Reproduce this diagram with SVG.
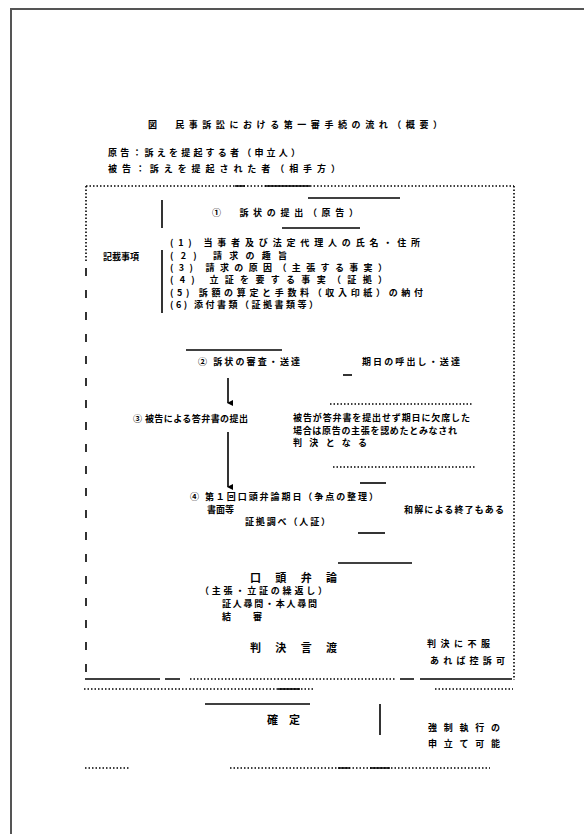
<svg xmlns="http://www.w3.org/2000/svg" width="584" height="834" viewBox="0 0 584 834">
<style>
text{font-family:"Noto Sans CJK JP","Noto Sans",sans-serif;fill:#000;font-size:9px;font-weight:bold}
.big{font-size:11px}
.dot{stroke:#000;stroke-width:1.6;stroke-dasharray:1.5 2;fill:none}
.dash{stroke:#000;stroke-width:1.6;stroke-dasharray:8 14;fill:none}
.sol{stroke:#000;stroke-width:1.6;fill:none}
</style>
<defs>
<marker id="ah" markerWidth="6" markerHeight="6" refX="3" refY="5" orient="auto" markerUnits="userSpaceOnUse"><path d="M0,0 L6,0 L3,6 z" fill="#000"/></marker>
</defs>
<rect x="0" y="0" width="584" height="834" fill="#fff"/>
<path d="M11,840 L11,9 L590,9" fill="none" stroke="#555" stroke-width="2"/>
<g id="header">
<text x="148" y="128" textLength="294" lengthAdjust="spacing">図　民事訴訟における第一審手続の流れ（概要）</text>
<text x="108" y="156" textLength="192" lengthAdjust="spacing">原告：訴えを提起する者（申立人）</text>
<text x="108" y="172" textLength="232" lengthAdjust="spacing">被告：訴えを提起された者（相手方）</text>
</g>
<g id="frame">
<path class="dot" d="M86,186 L514,186"/>
<path class="sol" d="M235,186 L245,186 M265,186 L310,186"/>
<path class="dot" d="M86,186 L86,262"/>
<path class="dash" d="M86,268 L86,678"/>
<path class="dot" d="M514,186 L514,680"/>
<path class="sol" d="M85,679 L160,679 M165,679 L180,679 M400,679 L414,679 M420,679 L512,679"/>
<path class="dot" d="M190,679 L395,679"/>
<path class="dot" d="M84,689 L315,689 M435,689 L513,689"/>
<path class="sol" d="M278,689 L300,689"/>
</g>
<g id="connectors">
<path class="sol" d="M308,198 L400,198"/>
<path class="sol" d="M162,200 L162,228"/>
<path class="sol" d="M282,228 L360,228"/>
<path class="sol" d="M162,250 L162,313"/>
<path class="sol" d="M186,350 L282,350"/>
<path class="sol" d="M343,375 L352,375"/>
<path class="sol" d="M228,378 L228,403" marker-end="url(#ah)"/>
<path class="dot" d="M330,404 L472,404"/>
<path class="sol" d="M228,432 L228,487" marker-end="url(#ah)"/>
<path class="dot" d="M333,467 L475,467"/>
<path class="sol" d="M360,483 L386,483"/>
<path class="sol" d="M358,533 L385,533"/>
<path class="sol" d="M338,563 L412,563"/>
<path class="sol" d="M205,704 L310,704"/>
<path class="sol" d="M380,704 L380,735"/>
<path class="dot" d="M85,768 L130,768 M230,768 L490,768"/>
<path class="sol" d="M338,768 L350,768 M370,768 L390,768"/>
</g>
<g id="n-filing">
<text x="212" y="216" textLength="146" lengthAdjust="spacing">①　訴状の提出（原告）</text>
</g>
<g id="n-items">
<text x="103" y="260">記載事項</text>
<text x="170" y="246" textLength="250" lengthAdjust="spacing">(1) 当事者及び法定代理人の氏名・住所</text>
<text x="170" y="259" textLength="117" lengthAdjust="spacing">(2) 請求の趣旨</text>
<text x="170" y="271" textLength="217" lengthAdjust="spacing">(3) 請求の原因（主張する事実）</text>
<text x="170" y="283" textLength="217" lengthAdjust="spacing">(4) 立証を要する事実（証拠）</text>
<text x="170" y="296" textLength="253" lengthAdjust="spacing">(5) 訴額の算定と手数料（収入印紙）の納付</text>
<text x="170" y="308" textLength="148" lengthAdjust="spacing">(6) 添付書類（証拠書類等）</text>
</g>
<g id="n-review">
<text x="198" y="365" textLength="102" lengthAdjust="spacing">② 訴状の審査・送達</text>
</g>
<g id="n-summon">
<text x="362" y="365" textLength="98" lengthAdjust="spacing">期日の呼出し・送達</text>
</g>
<g id="n-answer">
<text x="133" y="422" textLength="115" lengthAdjust="spacing">③ 被告による答弁書の提出</text>
</g>
<g id="n-default">
<text x="293" y="421" textLength="177" lengthAdjust="spacing">被告が答弁書を提出せず期日に欠席した</text>
<text x="293" y="434" textLength="164" lengthAdjust="spacing">場合は原告の主張を認めたとみなされ</text>
<text x="293" y="446" textLength="74" lengthAdjust="spacing">判決となる</text>
</g>
<g id="n-first">
<text x="190" y="500" textLength="188" lengthAdjust="spacing">④ 第１回口頭弁論期日（争点の整理）</text>
<text x="207" y="513" textLength="27" lengthAdjust="spacing">書面等</text>
<text x="245" y="525" textLength="85" lengthAdjust="spacing">証拠調べ（人証）</text>
</g>
<g id="n-settle">
<text x="404" y="513" textLength="100" lengthAdjust="spacing">和解による終了もある</text>
</g>
<g id="n-oral">
<text class="big" x="250" y="582" textLength="87" lengthAdjust="spacing">口頭弁論</text>
<text x="200" y="594" textLength="127" lengthAdjust="spacing">（主張・立証の繰返し）</text>
<text x="222" y="607" textLength="95" lengthAdjust="spacing">証人尋問・本人尋問</text>
<text x="222" y="620" textLength="40" lengthAdjust="spacing">結審</text>
</g>
<g id="n-judgment">
<text class="big" x="250" y="652" textLength="87" lengthAdjust="spacing">判決言渡</text>
</g>
<g id="n-appeal">
<text x="427" y="647" textLength="63" lengthAdjust="spacing">判決に不服</text>
<text x="430" y="664" textLength="75" lengthAdjust="spacing">あれば控訴可</text>
</g>
<g id="n-final">
<text class="big" x="267" y="724" textLength="33" lengthAdjust="spacing">確定</text>
</g>
<g id="n-exec">
<text x="428" y="731" textLength="72" lengthAdjust="spacing">強制執行の</text>
<text x="428" y="747" textLength="72" lengthAdjust="spacing">申立て可能</text>
</g>
</svg>
